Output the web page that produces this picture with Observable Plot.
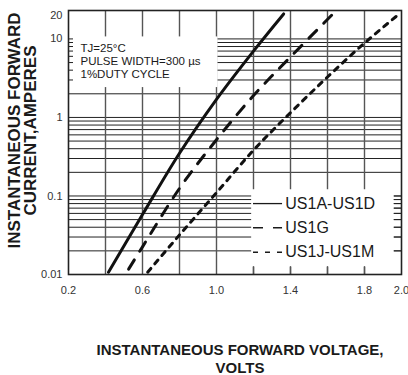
<!DOCTYPE html>
<html><head><meta charset="utf-8">
<script src="https://cdn.jsdelivr.net/npm/d3@7"></script>
<script src="https://cdn.jsdelivr.net/npm/@observablehq/plot@0.6"></script>
<style>
body{margin:0;background:#fff;}
</style></head><body><div id="chart"></div>
<script>
// ---- data ----
const xTicks = [0.2, 0.6, 1.0, 1.4, 1.8, 2.0];
const yTicks = [0.01, 0.1, 1, 10, 20];
const seriesNames = ["US1A-US1D", "US1G", "US1J-US1M"];
const voltsA = [0.416, 0.6, 0.8, 1.0, 1.2, 1.363];
const ampsA  = [0.0107, 0.058, 0.35, 1.7, 7.0, 20.8];
const voltsG = [0.525, 0.6, 0.8, 1.0, 1.2, 1.4, 1.632];
const ampsG  = [0.0117, 0.0225, 0.125, 0.52, 1.9, 5.9, 21.1];
const voltsJ = [0.628, 0.8, 1.0, 1.2, 1.4, 1.6, 1.8, 1.99];
const ampsJ  = [0.0107, 0.0319, 0.11, 0.383, 1.15, 3.27, 8.85, 21];
const noteLines = ["TJ=25°C", "PULSE WIDTH=300 µs", "1%DUTY CYCLE"];
const xTitle = ["INSTANTANEOUS FORWARD VOLTAGE,", "VOLTS"];
const yTitle = ["INSTANTANEOUS FORWARD", "CURRENT,AMPERES"];

// ---- layout helpers (data units) ----
const noteBox = {x1: 0.2, x2: 1.008, y1: 2.4, y2: 10.6};
const legendBox = {x1: 1.19, x2: 1.96, y1: 0.0126, y2: 0.12};
const legendY = [0.080, 0.0394, 0.0192];
const legendLineX = [1.2, 1.357];
const legendTextX = 1.372;

const hGrid = [0.01, 0.1, 1].flatMap(d => d3.range(1, 10).map(k => +(k * d).toPrecision(2)))
  .filter(v => v > 0.01).concat([10]);
const vGrid = d3.range(2, 10).map(k => k / 5);

const table = (vs, as) => vs.map((v, i) => ({v, a: as[i]}));
const ink = "#1a1a1a";

const chart = Plot.plot({
  width: 408, height: 375,
  marginLeft: 68, marginRight: 7, marginTop: 10, marginBottom: 101,
  style: {fontFamily: "Liberation Sans, Arial, sans-serif", background: "white", color: ink},
  x: {domain: [0.2, 2.0], label: null},
  y: {type: "log", domain: [0.01, 23], label: null},
  marks: [
    Plot.ruleY(hGrid, {stroke: "#222", strokeWidth: 1}),
    Plot.ruleX(vGrid, {stroke: "#555", strokeWidth: 1.4}),
    Plot.rect([noteBox, legendBox], {x1: "x1", x2: "x2", y1: "y1", y2: "y2", fill: "white"}),
    // stubs on axes inside the boxes
    Plot.tickY(hGrid.filter(v => v > noteBox.y1 && v < noteBox.y2), {y: d => d, stroke: "#222", insetRight: 328}),
    Plot.tickY(hGrid.filter(v => v > legendBox.y1 && v < legendBox.y2), {y: d => d, stroke: "#222", insetLeft: 326}),
    Plot.tickX(vGrid.filter(v => v > legendBox.x1 - 0.02 && v < legendBox.x2), {x: d => d, stroke: "#555", strokeWidth: 1.4, insetTop: 257}),
    // curves
    Plot.line(table(voltsA, ampsA), {x: "v", y: "a", stroke: "#111", strokeWidth: 3, curve: "catmull-rom"}),
    Plot.line(table(voltsG, ampsG), {x: "v", y: "a", stroke: "#111", strokeWidth: 3, strokeDasharray: "11,10", curve: "catmull-rom"}),
    Plot.line(table(voltsJ, ampsJ), {x: "v", y: "a", stroke: "#111", strokeWidth: 3, strokeDasharray: "5,6", curve: "catmull-rom"}),
    // legend
    Plot.ruleY([legendY[0]], {x1: legendLineX[0], x2: legendLineX[1], stroke: ink, strokeWidth: 1.3}),
    Plot.ruleY([legendY[1]], {x1: legendLineX[0], x2: legendLineX[1], stroke: ink, strokeWidth: 1.3, strokeDasharray: "10,10"}),
    Plot.ruleY([legendY[2]], {x1: legendLineX[0], x2: legendLineX[1], stroke: ink, strokeWidth: 1.3, strokeDasharray: "5,7"}),
    Plot.text(seriesNames, {x: legendTextX, y: (d, i) => legendY[i], text: d => d, textAnchor: "start", fontSize: 16, fill: ink}),
    // note
    Plot.text([noteLines.join("\n")], {frameAnchor: "top-left", dx: 12, dy: 33, lineAnchor: "top", textAnchor: "start", fontSize: 11.5, lineHeight: 1.1, fill: ink, ariaLabel: "note"}),
    // frame & axes
    Plot.frame({stroke: "#222", strokeWidth: 1.6}),
    Plot.axisX(xTicks, {tickSize: 0, tickPadding: 12, fontSize: 11, tickFormat: d3.format(".1f"), label: null, fill: "#333"}),
    Plot.axisY(yTicks, {tickSize: 0, tickPadding: 6, fontSize: 11, tickFormat: d => String(d), label: null, fill: "#333"}),
    // axis titles
    Plot.text([xTitle.join("\n")], {frameAnchor: "bottom", dx: 5, dy: 83.5, lineAnchor: "middle", textAnchor: "middle", fontSize: 15, fontWeight: "bold", lineHeight: 1.25, fill: ink}),
    Plot.text([yTitle.join("\n")], {frameAnchor: "left", dx: -45.5, dy: -12, rotate: -90, lineAnchor: "middle", textAnchor: "middle", fontSize: 17, fontWeight: "bold", lineHeight: 0.95, fill: ink})
  ]
});
document.getElementById("chart").appendChild(chart);

// small-cap "J" in "TJ"
const first = chart.querySelector('g[aria-label="note"] tspan') || chart.querySelector('g[aria-label="note"] text');
if (first) {
  const s = d3.select(first);
  s.text(null);
  s.append("tspan").text("T");
  s.append("tspan").attr("font-size", 8.5).text("J");
  s.append("tspan").text("=25°C");
}
</script>
</body></html>
